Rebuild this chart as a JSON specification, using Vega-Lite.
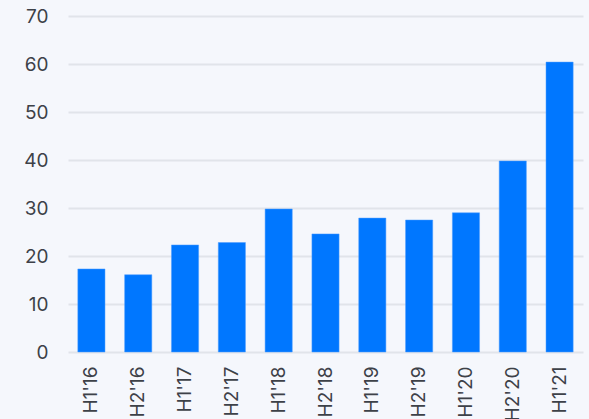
{
  "$schema": "https://vega.github.io/schema/vega-lite/v6.json",
  "width": 515,
  "height": 336,
  "autosize": {"type": "none"},
  "padding": {"left": 68, "top": 16, "right": 6, "bottom": 67},
  "background": "#f5f7fc",
  "config": {
    "view": {"stroke": null},
    "axis": {"labelFont": "Inter", "labelFontSize": 19, "labelColor": "#3d4148", "gridColor": "#e1e4ea", "gridWidth": 2}
  },
  "data": {"values": [
    {"period": "H1'16", "value": 17.3},
    {"period": "H2'16", "value": 16.1},
    {"period": "H1'17", "value": 22.3},
    {"period": "H2'17", "value": 22.8},
    {"period": "H1'18", "value": 29.8},
    {"period": "H2'18", "value": 24.6},
    {"period": "H1'19", "value": 27.9},
    {"period": "H2'19", "value": 27.5},
    {"period": "H1'20", "value": 29.0},
    {"period": "H2'20", "value": 39.8},
    {"period": "H1'21", "value": 60.4}
  ]},
  "mark": {"type": "bar", "color": "#0077ff", "stroke": "#4d9dff", "strokeWidth": 0.5},
  "encoding": {
    "x": {"field": "period", "type": "nominal", "sort": null,
      "scale": {"paddingInner": 0.42, "paddingOuter": 0.21},
      "axis": {"title": null, "labelAngle": -90, "domain": false, "ticks": false, "labelPadding": 14, "labelAlign": "right", "labelBaseline": "middle"}},
    "y": {"field": "value", "type": "quantitative",
      "scale": {"domain": [0, 70]},
      "axis": {"title": null, "values": [0, 10, 20, 30, 40, 50, 60, 70], "domain": false, "ticks": false, "labelPadding": 20, "grid": true}}
  }
}
